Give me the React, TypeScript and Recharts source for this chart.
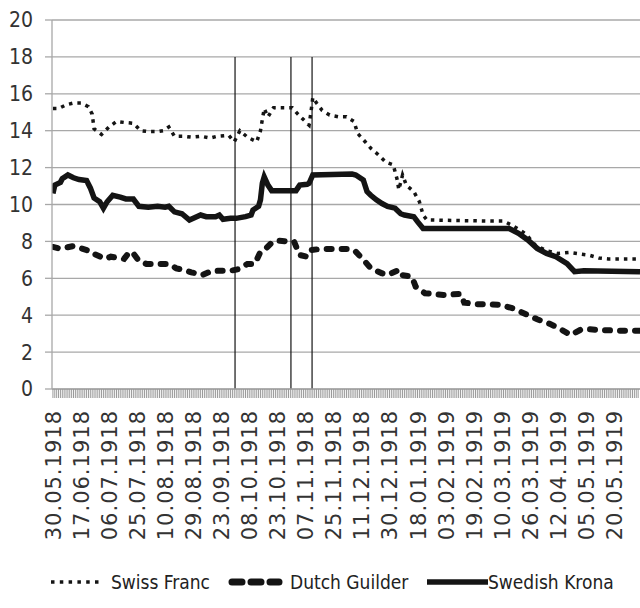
import { LineChart, Line, XAxis, YAxis, CartesianGrid, ReferenceLine } from 'recharts'

// category labels, one every 15 trading days
const xLabels = [
  '30.05.1918', '17.06.1918', '06.07.1918', '25.07.1918', '10.08.1918', '29.08.1918',
  '23.09.1918', '08.10.1918', '23.10.1918', '07.11.1918', '25.11.1918', '11.12.1918',
  '30.12.1918', '18.01.1919', '03.02.1919', '19.02.1919', '10.03.1919', '26.03.1919',
  '12.04.1919', '05.05.1919', '20.05.1919',
]
const yTicks = [0, 2, 4, 6, 8, 10, 12, 14, 16, 18, 20]
const dayCount = 314

// [day index, value]
const swissFranc = [
  [0, 15.2], [3, 15.2], [7, 15.4], [11, 15.5], [15, 15.5], [19, 15.3], [21, 14.9], [22, 14.1],
  [26, 13.8], [30, 14.2], [34, 14.5], [38, 14.45], [43, 14.4], [47, 14.0], [51, 13.95], [56, 13.95],
  [59, 14.0], [62, 14.2], [65, 13.7], [70, 13.7], [74, 13.65], [79, 13.7], [84, 13.6], [88, 13.7],
  [94, 13.75], [97, 13.4], [100, 14.0], [104, 13.65], [109, 13.4], [111, 14.0], [112, 14.6],
  [113, 15.2], [115, 14.75], [118, 15.25], [128, 15.25], [131, 14.9], [135, 14.5], [137, 14.3],
  [138, 15.0], [139, 15.8], [141, 15.5], [144, 15.1], [148, 14.85], [153, 14.75], [157, 14.75],
  [161, 14.5], [163, 13.85], [167, 13.4], [170, 13.05], [174, 12.7], [178, 12.3], [182, 12.15],
  [184, 11.4], [185, 10.8], [187, 11.6], [189, 11.05], [193, 10.7], [196, 10.15], [198, 9.43],
  [200, 9.16], [235, 9.1], [241, 9.1], [245, 8.9], [250, 8.6], [253, 8.4], [258, 7.8], [264, 7.5],
  [270, 7.35], [276, 7.4], [283, 7.3], [287, 7.25], [292, 7.1], [297, 7.05], [314, 7.05],
]
const dutchGuilder = [
  [0, 7.7], [4, 7.6], [11, 7.75], [14, 7.66], [21, 7.44], [22, 7.32], [28, 7.05], [31, 7.17],
  [38, 7.05], [41, 7.44], [43, 7.35], [46, 6.94], [50, 6.78], [62, 6.78], [66, 6.54], [70, 6.45],
  [74, 6.32], [79, 6.23], [80, 6.18], [85, 6.4], [95, 6.41], [99, 6.49], [104, 6.78], [108, 6.78],
  [111, 7.44], [114, 7.62], [117, 7.93], [120, 8.04], [129, 7.98], [132, 7.26], [136, 7.17],
  [138, 7.53], [143, 7.59], [159, 7.59], [162, 7.44], [167, 6.9], [170, 6.54], [176, 6.27],
  [179, 6.18], [185, 6.45], [186, 6.18], [192, 6.09], [194, 5.55], [199, 5.19], [209, 5.1],
  [218, 5.15], [220, 4.68], [227, 4.6], [239, 4.57], [246, 4.37], [250, 4.19], [256, 3.92],
  [259, 3.78], [266, 3.52], [269, 3.38], [274, 3.1], [277, 2.93], [282, 3.2], [285, 3.25],
  [292, 3.2], [303, 3.16], [314, 3.16],
]
const swedishKrona = [
  [0, 10.6], [1, 11.05], [4, 11.2], [5, 11.4], [8, 11.6], [11, 11.45], [14, 11.35], [18, 11.3],
  [20, 10.9], [22, 10.35], [25, 10.15], [27, 9.8], [29, 10.15], [32, 10.5], [36, 10.4], [39, 10.3],
  [43, 10.3], [46, 9.9], [51, 9.85], [56, 9.9], [60, 9.85], [62, 9.9], [65, 9.6], [69, 9.5],
  [73, 9.16], [76, 9.3], [79, 9.43], [82, 9.34], [87, 9.34], [89, 9.43], [91, 9.2], [95, 9.25],
  [98, 9.25], [103, 9.34], [106, 9.43], [107, 9.7], [110, 9.9], [111, 10.25], [112, 11.15],
  [113, 11.5], [115, 11.05], [117, 10.75], [130, 10.75], [132, 11.05], [136, 11.1], [137, 11.15],
  [139, 11.6], [160, 11.65], [162, 11.6], [166, 11.33], [168, 10.7], [170, 10.5], [173, 10.25],
  [176, 10.05], [179, 9.9], [183, 9.8], [186, 9.5], [188, 9.43], [193, 9.34], [195, 9.07],
  [198, 8.7], [244, 8.7], [249, 8.44], [254, 8.08], [259, 7.62], [264, 7.35], [269, 7.17],
  [275, 6.8], [279, 6.36], [284, 6.41], [314, 6.36],
]
// vertical event markers (day index)
const markers = [97.4, 127.3, 138.6]

const rows = (() => {
  const map = new Map<number, any>()
  const add = (arr: number[][], key: string) =>
    arr.forEach(([i, v]) => {
      const r = map.get(i) || { i }
      r[key] = v
      map.set(i, r)
    })
  add(swissFranc, 'sf')
  add(dutchGuilder, 'dg')
  add(swedishKrona, 'sk')
  return [...map.values()].sort((a, b) => a.i - b.i)
})()

const allTicks = Array.from({ length: dayCount }, (_, i) => i)

const ink = '#141414'
const gridGray = '#a8a8a8'
const narrow = '"Liberation Sans Narrow", "DejaVu Sans Condensed", sans-serif'

function DateTick({ x, y, payload }: any) {
  const i = payload.value
  if (i % 15 !== 0) return null
  return (
    <text
      transform={`translate(${x + 8},${y + 10}) rotate(-90)`}
      textAnchor="end"
      fontFamily='"DejaVu Sans", Verdana, sans-serif'
      fontSize={21}
      letterSpacing={1}
      fill="#333"
    >
      {xLabels[i / 15]}
    </text>
  )
}

// legend sample swatches
function Swatch({ kind, left, width }: { kind: string; left: number; width: number }) {
  return (
    <svg width={width} height={12} style={{ position: 'absolute', left, top: 6 }}>
      {kind === 'dot' && (
        <line x1={1} y1={6} x2={width} y2={6} stroke={ink} strokeWidth={3.5} strokeDasharray="3.5 5.3" />
      )}
      {kind === 'dash' && (
        <line x1={4} y1={6} x2={width - 4} y2={6} stroke={ink} strokeWidth={7}
          strokeLinecap="round" strokeDasharray="10 9" />
      )}
      {kind === 'solid' && <line x1={0} y1={6} x2={width} y2={6} stroke={ink} strokeWidth={5.5} />}
    </svg>
  )
}

function LegendText({ left, children }: { left: number; children: string }) {
  return (
    <span style={{ position: 'absolute', left, top: 0, whiteSpace: 'nowrap' }}>{children}</span>
  )
}

export default function App() {
  return (
    <div style={{ position: 'absolute', left: 0, top: 0, width: 640, height: 608, background: '#fff', overflow: 'hidden' }}>
      <LineChart width={640} height={608} data={rows} margin={{ top: 20, right: 0, bottom: 0, left: 0 }}>
        <CartesianGrid vertical={false} stroke={gridGray} strokeWidth={1.3} />
        <XAxis
          type="number"
          dataKey="i"
          domain={[-0.5, dayCount]}
          allowDataOverflow
          ticks={allTicks}
          interval={0}
          tick={<DateTick />}
          tickSize={9}
          tickLine={{ stroke: '#9a9a9a' }}
          axisLine={{ stroke: gridGray, strokeWidth: 1.3 }}
          height={219}
        />
        <YAxis
          domain={[0, 20]}
          ticks={yTicks}
          interval={0}
          width={52}
          tickSize={7}
          tickMargin={12}
          tickLine={{ stroke: gridGray, strokeWidth: 1.3 }}
          axisLine={{ stroke: gridGray, strokeWidth: 1.3 }}
          tick={{ fill: '#333', fontSize: 21, fontFamily: narrow }}
        />
        {markers.map((m) => (
          <ReferenceLine
            key={m}
            segment={[{ x: m, y: 0 }, { x: m, y: 18 }]}
            stroke={ink}
            strokeWidth={1.2}
          />
        ))}
        <Line
          dataKey="sf"
          type="linear"
          stroke={ink}
          strokeWidth={3.5}
          strokeDasharray="3.5 5"
          dot={false}
          connectNulls
          isAnimationActive={false}
        />
        <Line
          dataKey="dg"
          type="linear"
          stroke={ink}
          strokeWidth={6}
          strokeLinecap="round"
          strokeDasharray="5 10"
          dot={false}
          connectNulls
          isAnimationActive={false}
        />
        <Line
          dataKey="sk"
          type="linear"
          stroke={ink}
          strokeWidth={5.5}
          dot={false}
          connectNulls
          isAnimationActive={false}
        />
      </LineChart>
      <div
        style={{
          position: 'absolute',
          top: 570,
          left: 0,
          width: 640,
          height: 26,
          fontFamily: narrow,
          fontSize: 19,
          color: '#222',
          lineHeight: '24px',
        }}
      >
        <Swatch kind="dot" left={50} width={53} />
        <LegendText left={111}>Swiss Franc</LegendText>
        <Swatch kind="dash" left={228} width={55} />
        <LegendText left={290}>Dutch Guilder</LegendText>
        <Swatch kind="solid" left={427} width={61} />
        <LegendText left={488}>Swedish Krona</LegendText>
      </div>
    </div>
  )
}
